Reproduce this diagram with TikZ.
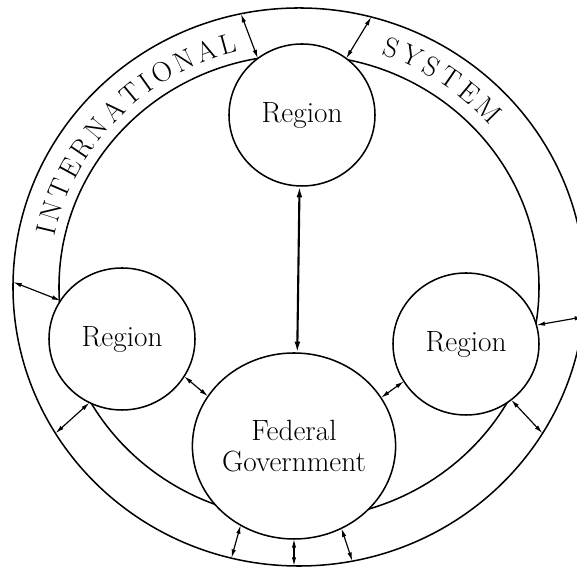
\documentclass[tikz,border=0pt]{standalone}
\usepackage{tikz}
\usetikzlibrary{shapes.geometric, arrows.meta, decorations.text}

\begin{document}
\begin{tikzpicture}[
    x=0.03cm, y=0.03cm,
    ring/.style={draw, ellipse, line width=1.3pt, inner sep=0pt, outer sep=0pt},
    region/.style={draw, ellipse, fill=white, line width=1.3pt, inner sep=0pt, outer sep=0pt, minimum width=4.38cm, minimum height=4.26cm, font=\fontsize{25}{26}\selectfont, align=center},
    link/.style={{Latex[length=0.26cm,width=0.13cm]}-{Latex[length=0.26cm,width=0.13cm]}, line width=1pt},
    mainlink/.style={{Latex[length=0.34cm,width=0.17cm]}-{Latex[length=0.34cm,width=0.17cm]}, line width=1.8pt},
    ringtext/.style={decorate, decoration={text along path, text align=fit to path, text={#1}}},
]
\useasboundingbox (0,0) rectangle (577,567);
\clip (0,0) rectangle (577,567);

% International system ring
\node[ring, minimum width=17.16cm, minimum height=16.74cm] (sysout) at (299,280) {};
\node[ring, minimum width=14.4cm, minimum height=13.92cm] (sysin) at (299,280) {};
\path[ringtext={|\fontsize{24}{24}\selectfont|INTERNATIONAL}] (299,280) ++(168:250 and 243) arc[start angle=168, end angle=104, x radius=250, y radius=243];
\path[ringtext={|\fontsize{24}{24}\selectfont|SYSTEM}] (299,280) ++(71:253 and 246) arc[start angle=71, end angle=41, x radius=253, y radius=246];

% Regions and federal government
\node[region] (regn) at (302,452) {Region};
\node[region] (regw) at (122,228) {Region};
\node[region] (rege) at (466,223) {Region};
\node[region, minimum width=5.85cm, minimum height=5.58cm] (fed) at (294,121) {Federal\\Government};

% Links to the ring
\draw[link] (sysout.102) -- (regn.128);
\draw[link] (sysout.75.6) -- (regn.52);
\draw[link] (sysout.179) -- (regw.148);
\draw[link] (sysout.211.6) -- (regw.243);
\draw[link] (sysout.354) -- (rege.15);
\draw[link] (sysout.329) -- (rege.309);
\draw[link] (sysout.256) -- (fed.236);
\draw[link] (fed.south) -- (fed.south |- sysout.south);
\draw[link] (sysout.281.6) -- (fed.300);

% Links inside
\draw[link] (regw.329) -- (fed.150);
\draw[link] (rege.211) -- (fed.29);
\draw[mainlink] (regn.268) -- (fed.88);
\end{tikzpicture}
\end{document}
